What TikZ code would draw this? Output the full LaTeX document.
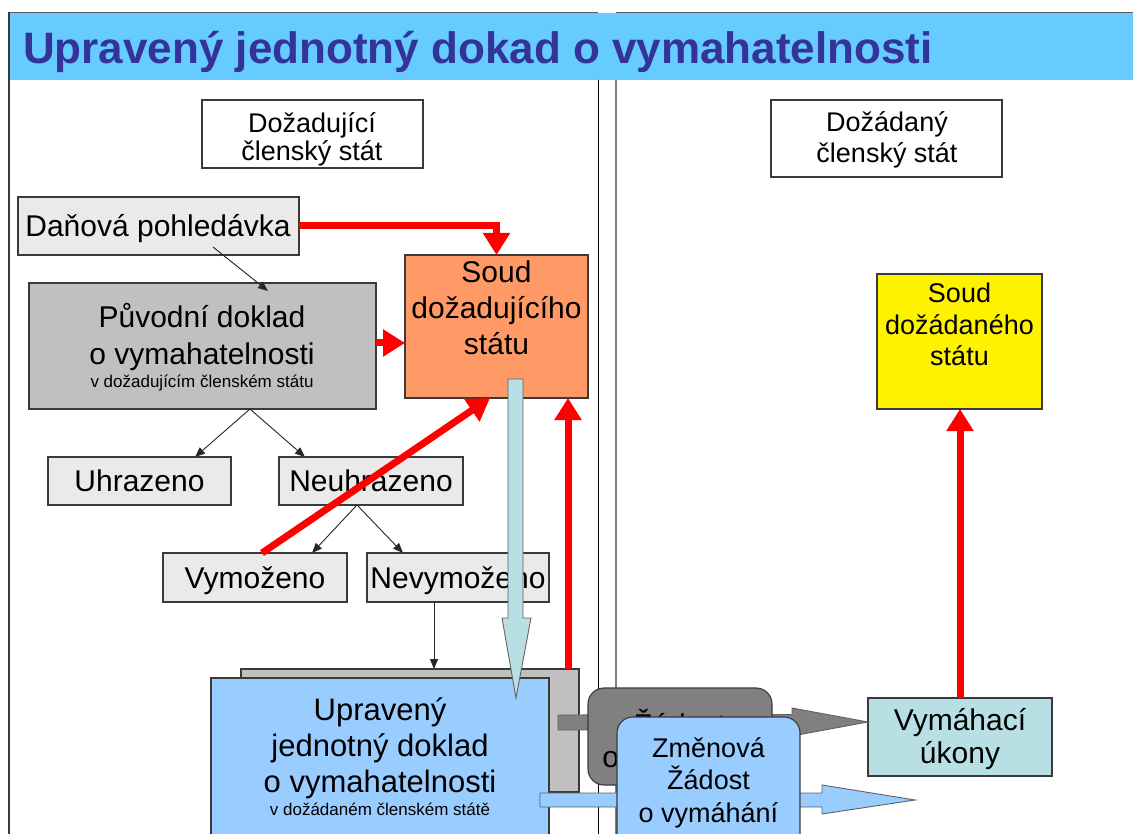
\documentclass[tikz,border=0pt]{standalone}
\usepackage{fontspec}
\setmainfont{Liberation Sans}
\usetikzlibrary{arrows.meta,calc,fit}

\definecolor{titlebar}{HTML}{66CCFF}
\definecolor{titleink}{HTML}{333399}
\definecolor{lightbox}{HTML}{EAEAEA}
\definecolor{midgray}{HTML}{C0C0C0}
\definecolor{deepgray}{HTML}{808080}
\definecolor{salmon}{HTML}{FF9966}
\definecolor{paleblue}{HTML}{99CCFF}
\definecolor{palecyan}{HTML}{B8E0E4}
\definecolor{edgeink}{HTML}{3A3A3A}

% font size / baseline skip, no extra lineskip for accented lines
\newcommand\fs[2]{\fontsize{#1}{#2}\selectfont\lineskiplimit=-100pt\relax}
% fixed first-line height, so a label's top sits exactly 1em above its first baseline
\newcommand\tp{\rule{0pt}{1em}}

\tikzset{
  box/.style={rectangle, draw=edgeink, line width=1.1pt, inner sep=0pt, outer sep=0pt},
  rbox/.style={box, rounded corners=16pt},
  lbl/.style={inner sep=0pt, outer sep=0pt, anchor=north, align=center, text=black},
  lone/.style={inner sep=0pt, outer sep=0pt, anchor=base, text=black},
  redarrow/.style={draw=red, line width=7pt, -{Triangle[length=22pt,width=26pt]}},
  thinarrow/.style={draw=black!85, line width=0.9pt, -{Triangle[length=10pt,width=8pt]}},
  blockarrow/.style={draw=edgeink!80, line width=0.9pt, line join=miter},
}

\begin{document}
\begin{tikzpicture}[x=1pt,y=-1pt]
\useasboundingbox (0,0) rectangle (1133,834);
\clip (0,0) rectangle (1133,834);

% heading band
\fill[titlebar] (9,13) rectangle (1133,80);
\draw[gray!70!black, line width=1.5pt] (9,12.5) -- (598,12.5) (616,12.5) -- (1133,12.5);
\node[anchor=base west, inner sep=0pt, font=\fs{44}{44}\bfseries, text=titleink] (title) at (23,64)
  {Upravený jednotný dokad o vymahatelnosti};

% frame and column dividers
\draw[edgeink, line width=1.2pt] (9,12) -- (9,834);
\draw[black, line width=1pt] (598,80) -- (598,834);
\draw[gray, line width=1.2pt] (616,80) -- (616,834);

% column headers
\node[box, fill=white, fit={(202,100) (423,168)}] (reqst) {};
\node[lbl, font=\fs{27}{28}] (reqst-t) at (312,106) {\tp Dožadující\\členský stát};
\node[box, fill=white, fit={(771,100) (1002,177)}] (reqdst) {};
\node[lbl, font=\fs{27}{31}] (reqdst-t) at (887,105) {\tp Dožádaný\\členský stát};

% requesting state
\node[box, fill=lightbox, fit={(18,197) (299,255)}] (dan) {};
\node[lone, font=\fs{30}{30}] (dan-t) at (158,237) {Daňová pohledávka};

\node[box, fill=midgray, fit={(29,283) (376,409)}] (puv) {};
\node[lbl, font=\fs{30}{37}] (puv-t) at (202,298) {\tp Původní doklad\\o vymahatelnosti};
\node[lone, font=\fs{17}{17}] (puv-s) at (202,388) {v dožadujícím členském státu};

\node[box, fill=salmon, fit={(405,255) (588,398)}] (soudA) {};
\node[lbl, font=\fs{30}{36}] (soudA-t) at (496.5,253) {\tp Soud\\dožadujícího\\státu};

\node[box, fill=lightbox, fit={(48,457) (231,505)}] (uhr) {};
\node[lone, font=\fs{30}{30}] (uhr-t) at (139.5,491) {Uhrazeno};
\node[box, fill=lightbox, fit={(279,457) (463,505)}] (neuhr) {};
\node[lone, font=\fs{30}{30}] (neuhr-t) at (371,491) {Neuhrazeno};
\node[box, fill=lightbox, fit={(163,553) (347,602)}] (vym) {};
\node[lone, font=\fs{30}{30}] (vym-t) at (255,588) {Vymoženo};
\node[box, fill=lightbox, fit={(367,553) (549,602)}] (nevym) {};
\node[lone, font=\fs{30}{30}] (nevym-t) at (458,588) {Nevymoženo};

% requested state
\node[box, fill=yellow, fit={(877,274) (1042,409)}] (soudB) {};
\node[lbl, font=\fs{27}{31.5}] (soudB-t) at (959.5,276) {\tp Soud\\dožádaného\\státu};
\node[box, fill=palecyan, fit={(868,698) (1052,776)}] (vymuk) {};
\node[lbl, font=\fs{30}{33}] (vymuk-t) at (960,700) {\tp Vymáhací\\úkony};

% thin connectors
\coordinate (puvfork) at ($(puv.south west)+(221,0)$);
\coordinate (neufork) at ($(neuhr.south west)+(78,0)$);
\draw[thinarrow] ($(dan.south west)+(195,-8)$) -- ($(puv.north west)+(239,8)$);
\draw[thinarrow] (puvfork) -- ($(uhr.north west)+(147,0)$);
\draw[thinarrow] (puvfork) -- ($(neuhr.north west)+(26,0)$);
\draw[thinarrow] (neufork) -- ($(vym.north west)+(149,0)$);
\draw[thinarrow] (neufork) -- ($(nevym.north west)+(36,0)$);

% uniform instrument stack
\node[box, fill=midgray, fit={(241,669) (579,792)}] (back) {};
\coordinate (nevymout) at ($(nevym.south west)+(67,0)$);
\draw[thinarrow] (nevymout) -- (nevymout |- back.north);

% request to the enforcement actions (dark block arrow)
\coordinate (gtail) at (558,722.5);
\coordinate (gtip) at ($(vymuk.north west)+(0,24)$);
\filldraw[blockarrow, fill=deepgray]
  ($(gtail)+(0,-7.5)$) -- ($(gtip)+(-76,-7.5)$) -- ($(gtip)+(-76,-14)$) -- (gtip)
  -- ($(gtip)+(-76,14)$) -- ($(gtip)+(-76,7.5)$) -- ($(gtail)+(0,7.5)$) -- cycle;

\node[box, fill=paleblue, fit={(211,678) (549,850)}] (uprav) {};
\node[lbl, font=\fs{31}{36}] (uprav-t) at (380,689) {\tp Upravený\\jednotný doklad\\ o vymahatelnosti};
\node[lone, font=\fs{17}{17}] (uprav-s) at (380,815) {v dožádaném členském státě};

% amended request (light block arrow)
\coordinate (btail) at (540,800);
\coordinate (btip) at (915,800);
\filldraw[blockarrow, fill=paleblue]
  ($(btail)+(0,-7)$) -- ($(btip)+(-93,-7)$) -- ($(btip)+(-93,-15)$) -- (btip)
  -- ($(btip)+(-93,14)$) -- ($(btip)+(-93,7)$) -- ($(btail)+(0,7)$) -- cycle;

\node[rbox, fill=deepgray, fit={(588,688) (772,785)}] (zad) {};
\node[lbl, font=\fs{30}{32}] (zad-t) at (680,705) {\tp Žádost\\o vymáhání};

\node[rbox, fill=paleblue, fit={(617,717) (800,860)}] (zmen) {};
\node[lbl, font=\fs{27}{32.5}] (zmen-t) at (708.5,730) {\tp Změnová\\Žádost\\o vymáhání};

% transfer of the instrument (pale cyan block arrow)
\coordinate (ctail) at (516,379);
\coordinate (ctip) at (516,698);
\filldraw[blockarrow, fill=palecyan]
  ($(ctail)+(-8,0)$) -- ($(ctail)+(7,0)$) -- ($(ctip)+(7,-80)$) -- ($(ctip)+(15,-80)$) -- (ctip)
  -- ($(ctip)+(-14,-80)$) -- ($(ctip)+(-8,-80)$) -- cycle;

% red flows
\coordinate (puvout) at ($(puv.east)+(0,-3)$);
\coordinate (vymout) at ($(vym.north)+(7,0)$);
\coordinate (backout) at ($(back.north east)+(-11,0)$);
\draw[redarrow] (dan.east) -| (soudA.north);
\draw[redarrow] (puvout) -- (puvout -| soudA.west);
\draw[redarrow] (vymout) -- ($(soudA.south west)+(85,0)$);
\draw[redarrow] (backout) -- (backout |- soudA.south);
\draw[redarrow] (vymuk.north) -- (vymuk.north |- soudB.south);
\end{tikzpicture}
\end{document}
